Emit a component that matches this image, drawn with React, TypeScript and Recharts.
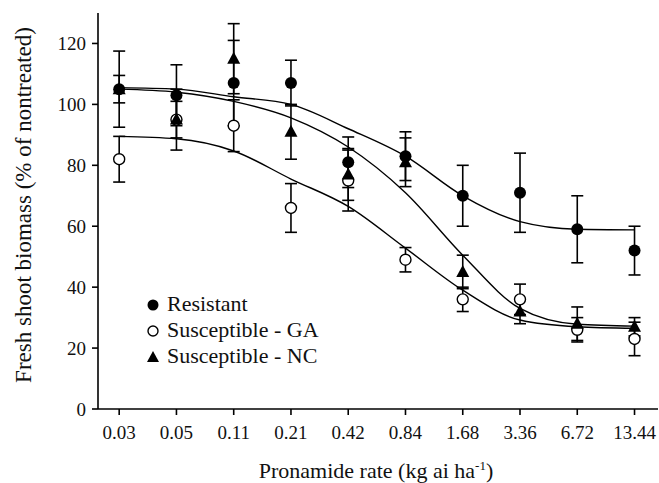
import React from 'react';
import { ComposedChart, Line, Scatter, ErrorBar, XAxis, YAxis } from 'recharts';

// pronamide rates (kg ai/ha), plotted at equal spacing (doubling series)
const rates = ['0.03', '0.05', '0.11', '0.21', '0.42', '0.84', '1.68', '3.36', '6.72', '13.44'];

// observed means (% of nontreated)
const resistant = [105, 103, 107, 107, 81, 83, 70, 71, 59, 52];
const susceptibleGA = [82, 95, 93, 66, 75, 49, 36, 36, 26, 23];
const susceptibleNC = [105, 95, 115, 91, 77, 81, 45, 32, 28, 27];

// standard errors
const resistantErr = [12.5, 10, 14, 7.5, 8.3, 8, 10, 13, 11, 8];
const gaErr = [7.5, 6, 8.5, 8, 10, 4, 4, 5, 4, 5.5];
const ncErr = [4.5, 10, 11.5, 9, 8.5, 8, 5.5, 4, 5.5, 3];

// fitted regression curves, read at each rate
const resistantFit = [105.5, 105, 102.5, 100, 92, 83, 70, 61.5, 59, 58.8];
const gaFit = [89.5, 88.7, 84.7, 75.5, 66.5, 52.8, 39, 29.2, 27, 26.5];
const ncFit = [105, 104, 101, 95.6, 86, 71, 50.5, 33, 27.8, 27.2];

const data = rates.map((r, i) => ({
  x: i,
  resistant: resistant[i],
  ga: susceptibleGA[i],
  nc: susceptibleNC[i],
  rErr: resistantErr[i],
  gaErr: gaErr[i],
  ncErr: ncErr[i],
  rFit: resistantFit[i],
  gaFit: gaFit[i],
  ncFit: ncFit[i],
}));

const FONT = '"Liberation Serif", serif';

const FilledCircle = (props: any) => (
  <circle cx={props.cx} cy={props.cy} r={6} fill="#000" />
);
const OpenCircle = (props: any) => (
  <circle cx={props.cx} cy={props.cy} r={5.5} fill="#fff" stroke="#000" strokeWidth={1.4} />
);
const Triangle = (props: any) => {
  const { cx, cy } = props;
  return <path d={`M${cx},${cy - 7} L${cx + 6.5},${cy + 5} L${cx - 6.5},${cy + 5} Z`} fill="#000" />;
};

const Legend = () => {
  const items = [
    { label: 'Resistant', shape: <circle cx={153} cy={305} r={5.5} fill="#000" /> },
    { label: 'Susceptible - GA', shape: <circle cx={153} cy={331} r={5} fill="#fff" stroke="#000" strokeWidth={1.4} /> },
    { label: 'Susceptible - NC', shape: <path d="M153,351 L159,362 L147,362 Z" fill="#000" /> },
  ];
  return (
    <g>
      {items.map((it, i) => (
        <g key={it.label}>
          {it.shape}
          <text x={167} y={311 + i * 26} style={{ fontFamily: FONT }} fontSize={22} fill="#111">
            {it.label}
          </text>
        </g>
      ))}
    </g>
  );
};

const App: React.FC = () => {
  return (
    <div style={{ position: 'absolute', left: 0, top: 0, background: '#fff' }}>
      <ComposedChart
        width={659}
        height={483}
        data={data}
        margin={{ top: 13, right: 1, left: 0, bottom: 34 }}
      >
        <XAxis
          xAxisId="main"
          dataKey="x"
          type="number"
          domain={[-0.37, 9.41]}
          ticks={[0, 1, 2, 3, 4, 5, 6, 7, 8, 9]}
          tickFormatter={(v) => rates[v]}
          allowDataOverflow
          height={40}
          stroke="#000"
          strokeWidth={1.6}
          tickSize={6}
          tickMargin={11}
          tick={{ fill: '#111', fontFamily: FONT, fontSize: 19 }}
          label={{
            content: () => (
              <text x={376} y={478} textAnchor="middle" style={{ fontFamily: FONT }} fontSize={22} fill="#111">
                Pronamide rate (kg ai ha
                <tspan dy={-8} fontSize={13}>-1</tspan>
                <tspan dy={8}>)</tspan>
              </text>
            ),
          }}
        />
        <XAxis xAxisId="top" orientation="top" type="number" dataKey="x" domain={[-0.37, 9.41]} tick={false} tickLine={false} height={0} stroke="#000" strokeWidth={1.6} />
        <YAxis
          yAxisId="main"
          type="number"
          domain={[0, 130]}
          ticks={[0, 20, 40, 60, 80, 100, 120]}
          allowDataOverflow
          width={98}
          stroke="#000"
          strokeWidth={1.6}
          tickSize={6}
          tickMargin={6}
          tick={{ fill: '#111', fontFamily: FONT, fontSize: 19 }}
          label={{
            content: () => (
              <text
                x={26}
                y={205}
                transform="rotate(-90 26 205)"
                textAnchor="middle"
                dominantBaseline="middle"
                style={{ fontFamily: FONT }}
                fontSize={23}
                fill="#111"
              >
                Fresh shoot biomass (% of nontreated)
              </text>
            ),
          }}
        />
        <YAxis yAxisId="right" orientation="right" type="number" domain={[0, 130]} tick={false} tickLine={false} width={0} stroke="#000" strokeWidth={1.6} />

        <Line xAxisId="main" yAxisId="main" type="monotone" dataKey="rFit" stroke="#000" strokeWidth={1.4} dot={false} isAnimationActive={false} />
        <Line xAxisId="main" yAxisId="main" type="monotone" dataKey="gaFit" stroke="#000" strokeWidth={1.4} dot={false} isAnimationActive={false} />
        <Line xAxisId="main" yAxisId="main" type="monotone" dataKey="ncFit" stroke="#000" strokeWidth={1.4} dot={false} isAnimationActive={false} />

        <Scatter xAxisId="main" yAxisId="main" dataKey="ga" shape={OpenCircle} isAnimationActive={false}>
          <ErrorBar dataKey="gaErr" direction="y" width={6} stroke="#000" strokeWidth={1.6} />
        </Scatter>
        <Scatter xAxisId="main" yAxisId="main" dataKey="nc" shape={Triangle} isAnimationActive={false}>
          <ErrorBar dataKey="ncErr" direction="y" width={6} stroke="#000" strokeWidth={1.6} />
        </Scatter>
        <Scatter xAxisId="main" yAxisId="main" dataKey="resistant" shape={FilledCircle} isAnimationActive={false}>
          <ErrorBar dataKey="rErr" direction="y" width={6} stroke="#000" strokeWidth={1.6} />
        </Scatter>

        <Legend />
      </ComposedChart>
    </div>
  );
};

export default App;
